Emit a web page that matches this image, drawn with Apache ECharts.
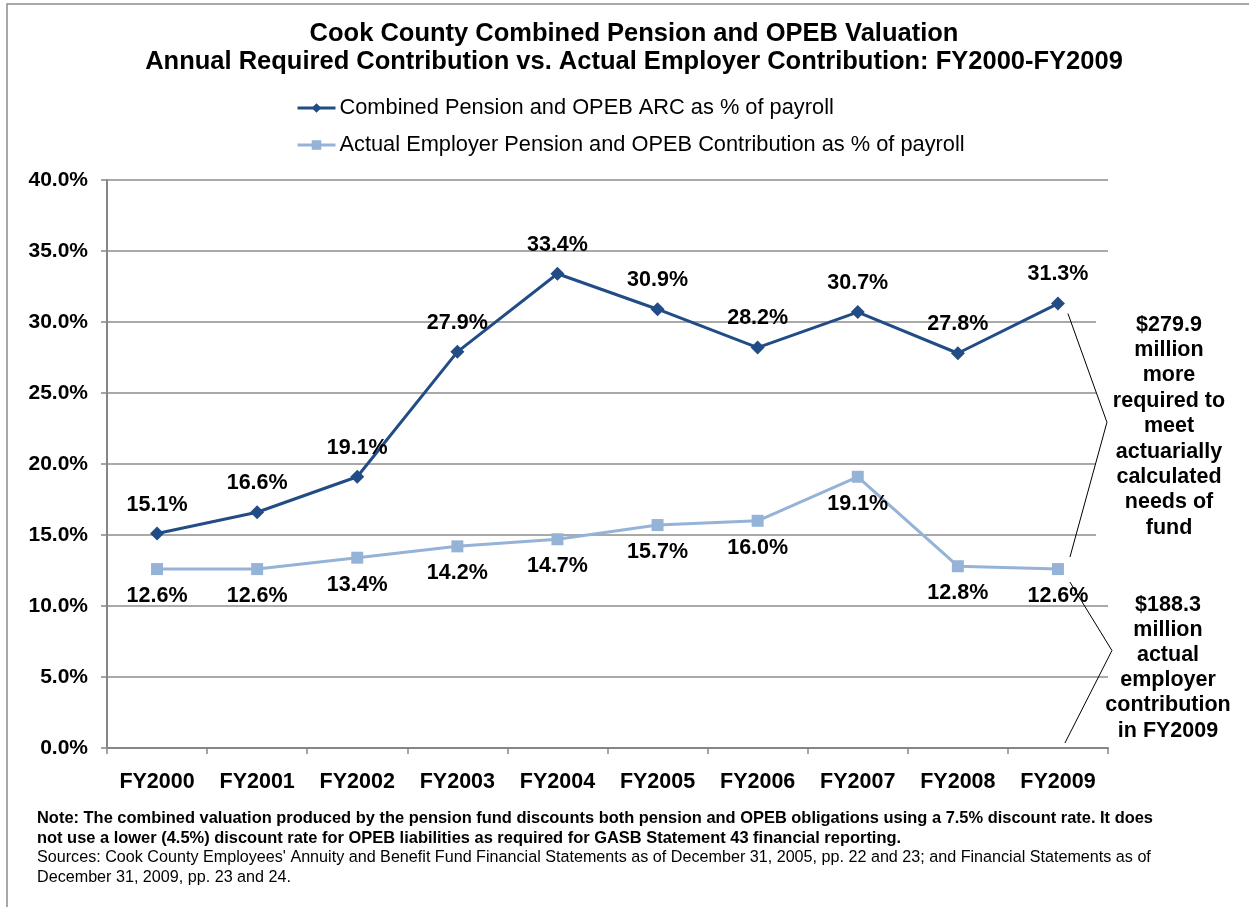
<!DOCTYPE html>
<html>
<head>
<meta charset="utf-8">
<script src="https://cdn.jsdelivr.net/npm/echarts@6/dist/echarts.min.js"></script>
<style>
  html, body { margin: 0; padding: 0; background: #fff; }
  #chart { width: 1249px; height: 907px; }
</style>
</head>
<body>
<div id="chart"></div>
<script>
const years = ['FY2000', 'FY2001', 'FY2002', 'FY2003', 'FY2004', 'FY2005', 'FY2006', 'FY2007', 'FY2008', 'FY2009']
const arcPct = [15.1, 16.6, 19.1, 27.9, 33.4, 30.9, 28.2, 30.7, 27.8, 31.3]
const actualPct = [12.6, 12.6, 13.4, 14.2, 14.7, 15.7, 16.0, 19.1, 12.8, 12.6]
const yTicks = [0, 5, 10, 15, 20, 25, 30, 35, 40]

const arcName = 'Combined Pension and OPEB ARC as % of payroll'
const actualName = 'Actual Employer Pension and OPEB Contribution as % of payroll'
const upperNote = ['$279.9', 'million', 'more', 'required to', 'meet', 'actuarially', 'calculated', 'needs of', 'fund']
const lowerNote = ['$188.3', 'million', 'actual', 'employer', 'contribution', 'in FY2009']

const darkBlue = '#214C86'
const lightBlue = '#95B3D7'
const font = 'Liberation Sans, Arial, sans-serif'

const chart = echarts.init(document.getElementById('chart'))

const pctLabel = (p) => p.value.toFixed(1) + '%'

chart.setOption({
  backgroundColor: '#fff',
  animation: false,
  textStyle: { fontFamily: font },
  title: {
    text: 'Cook County Combined Pension and OPEB Valuation\nAnnual Required Contribution vs. Actual Employer Contribution: FY2000-FY2009',
    left: 629,
    textAlign: 'center',
    top: 15,
    textStyle: { fontSize: 25.5, fontWeight: 'bold', color: '#000', lineHeight: 28, fontFamily: font }
  },
  legend: {
    orient: 'vertical',
    left: 291,
    top: 92,
    itemGap: 15,
    itemWidth: 38,
    itemHeight: 12,
    lineStyle: { width: 3 },
    textStyle: { fontSize: 21.8, color: '#000', fontFamily: font, padding: [0, 0, 0, -1] },
    data: [arcName, actualName]
  },
  grid: { left: 107, right: 141, top: 180, bottom: 159 },
  xAxis: {
    type: 'category',
    data: years,
    boundaryGap: true,
    axisLine: { lineStyle: { color: '#868686', width: 2 } },
    axisTick: { show: true, length: 6, lineStyle: { color: '#868686', width: 1.5 } },
    axisLabel: { fontSize: 21.5, fontWeight: 'bold', color: '#000', margin: 23 }
  },
  yAxis: {
    type: 'value',
    min: 0,
    max: 40,
    interval: 5,
    axisLine: { show: true, lineStyle: { color: '#868686', width: 2 } },
    axisTick: { show: true, length: 6, lineStyle: { color: '#868686', width: 1.5 } },
    splitLine: { lineStyle: { color: '#8c8c8c', width: 1.5 } },
    axisLabel: {
      fontSize: 21, fontWeight: 'bold', color: '#000', margin: 19,
      formatter: (v) => yTicks.includes(v) ? v.toFixed(1) + '%' : ''
    }
  },
  series: [
    {
      name: arcName,
      type: 'line',
      data: arcPct,
      symbol: 'diamond',
      symbolSize: 14,
      lineStyle: { color: darkBlue, width: 3 },
      itemStyle: { color: darkBlue },
      label: {
        show: true, position: 'top', distance: 11, formatter: pctLabel,
        fontSize: 21.5, fontWeight: 'bold', color: '#000', fontFamily: font
      },
      z: 3
    },
    {
      name: actualName,
      type: 'line',
      data: actualPct,
      symbol: 'rect',
      symbolSize: 12,
      lineStyle: { color: lightBlue, width: 3 },
      itemStyle: { color: lightBlue },
      label: {
        show: true, position: 'bottom', distance: 10, formatter: pctLabel,
        fontSize: 21.5, fontWeight: 'bold', color: '#000', fontFamily: font
      },
      z: 2
    }
  ]
})

// annotations anchored to the FY2009 points
const last = years.length - 1
const pArc = chart.convertToPixel({ seriesIndex: 0 }, [last, arcPct[last]])
const pAct = chart.convertToPixel({ seriesIndex: 1 }, [last, actualPct[last]])
const pZero = chart.convertToPixel({ seriesIndex: 1 }, [last, 0])

chart.setOption({
  graphic: [
    {
      type: 'rect',
      silent: true,
      shape: { x: 7, y: 4, width: 1300, height: 1000 },
      style: { fill: null, stroke: '#8c8c8c', lineWidth: 1.5 },
      z: -10
    },
    {
      type: 'rect',
      shape: { x: 1096, y: 312, width: 150, height: 232 },
      style: { fill: '#fff' },
      z: 5
    },
    {
      type: 'polyline',
      shape: { points: [[pArc[0] + 10, pArc[1] + 10], [pArc[0] + 49, (pArc[1] + pAct[1]) / 2 - 14], [pAct[0] + 12, pAct[1] - 12]] },
      style: { stroke: '#000', lineWidth: 1, fill: null },
      z: 6
    },
    {
      type: 'polyline',
      shape: { points: [[pAct[0] + 12, pAct[1] + 13], [pAct[0] + 54, (pAct[1] + pZero[1]) / 2 - 8], [pZero[0] + 7, pZero[1] - 5]] },
      style: { stroke: '#000', lineWidth: 1, fill: null },
      z: 6
    },
    {
      type: 'text',
      x: 1169,
      y: 312,
      z: 7,
      style: {
        text: upperNote.join('\n'), align: 'center', verticalAlign: 'top',
        font: 'bold 21.5px ' + font, lineHeight: 25.4, fill: '#000'
      }
    },
    {
      type: 'text',
      x: 1168,
      y: 592,
      z: 7,
      style: {
        text: lowerNote.join('\n'), align: 'center', verticalAlign: 'top',
        font: 'bold 21.5px ' + font, lineHeight: 25.2, fill: '#000'
      }
    },
    {
      type: 'text',
      x: 37,
      y: 808,
      style: {
        text: 'Note: The combined valuation produced by the pension fund discounts both pension and OPEB obligations using a 7.5% discount rate. It does\nnot use a lower (4.5%) discount rate for OPEB liabilities as required for GASB Statement 43 financial reporting.',
        font: 'bold 16.45px ' + font,
        lineHeight: 20,
        fill: '#000'
      }
    },
    {
      type: 'text',
      x: 37,
      y: 848,
      style: {
        text: 'Sources: Cook County Employees\' Annuity and Benefit Fund Financial Statements as of December 31, 2005, pp. 22 and 23; and Financial Statements as of\nDecember 31, 2009, pp. 23 and 24.',
        font: '16.15px ' + font,
        lineHeight: 20,
        fill: '#000'
      }
    }
  ]
})
</script>
</body>
</html>
